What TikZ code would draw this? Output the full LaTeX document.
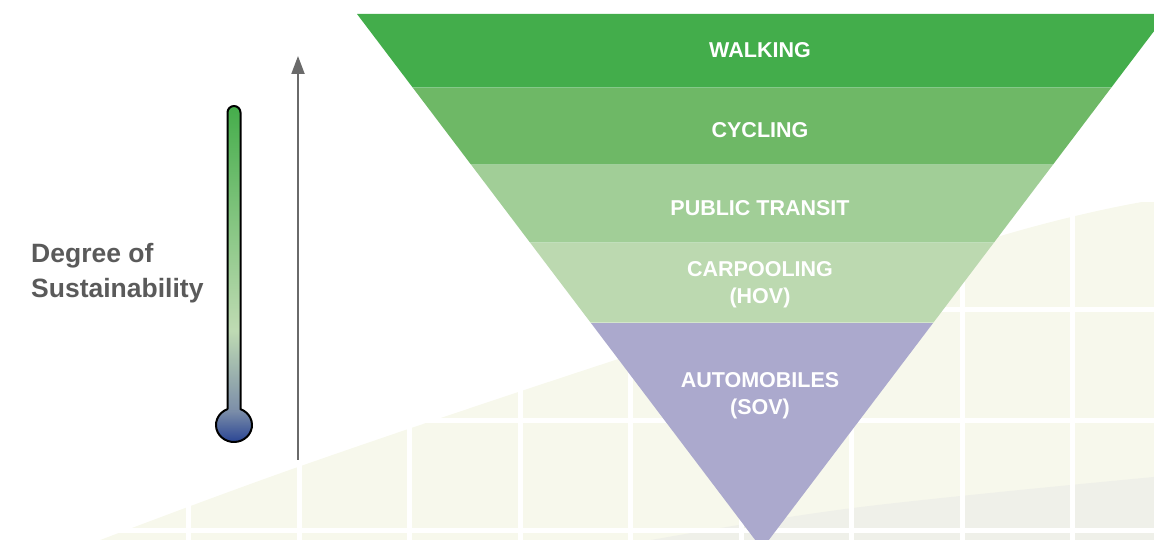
\documentclass[tikz,border=0pt]{standalone}
\usepackage{fontspec}
\setmainfont{Liberation Sans}
\usetikzlibrary{arrows.meta}
\definecolor{walkc}{HTML}{43AD4B}
\definecolor{cyclec}{HTML}{6EB866}
\definecolor{transitc}{HTML}{A1CE97}
\definecolor{carpoolc}{HTML}{BCD9B0}
\definecolor{autoc}{HTML}{ABA9CD}
\definecolor{beigec}{HTML}{F7F8EC}
\definecolor{swooshc}{HTML}{EFF0E9}
\definecolor{textgray}{HTML}{5A5A5A}
\definecolor{arrowgray}{HTML}{6A6A6A}
\definecolor{thG}{HTML}{45AD4B}
\definecolor{thL}{HTML}{BFDBB3}
\definecolor{thM}{HTML}{7D8FA9}
\definecolor{thB}{HTML}{2A4594}
\begin{document}
\begin{tikzpicture}[x=1pt,y=1pt,
  lbl/.style={text=white,font=\fontsize{21.5}{27}\selectfont\bfseries,align=center,inner sep=0pt},
  gridline/.style={white,line width=5pt},
  bandsep/.style={white,opacity=0.35,line width=1pt}]
\useasboundingbox (0,0) rectangle (1154,540);
\clip (0,0) rectangle (1154,540);
% background plane with grid
\fill[beigec] plot[smooth,tension=0.6] coordinates {(95,-2) (298,73) (600,175) (997,303) (1154,340)} -- (1160,340) -- (1160,-5) -- (95,-5) -- cycle;
\fill[swooshc] plot[smooth,tension=0.6] coordinates {(640,-2) (853,32) (1154,63)} -- (1160,63) -- (1160,-5) -- (640,-5) -- cycle;
\foreach \k in {0,...,8} \draw[gridline] ({188.5+110.5*\k},-5) -- ({188.5+110.5*\k},360);
\foreach \yy in {9,119.5,230,340.5} \draw[gridline] (0,\yy) -- (1160,\yy);
% inverted pyramid
\begin{scope}
  \clip (357,526) -- (1167,526) -- (762,-9) -- cycle;
  \fill[walkc] (340,452) rectangle (1180,530);
  \fill[cyclec] (340,375) rectangle (1180,452);
  \fill[transitc] (340,297) rectangle (1180,375);
  \fill[carpoolc] (340,217) rectangle (1180,297);
  \fill[autoc] (340,-10) rectangle (1180,217);
  \foreach \yy in {452,375,297,217} \draw[bandsep] (340,\yy) -- (1180,\yy);
\end{scope}
\node[lbl] (walking) at (760,490) {WALKING};
\node[lbl] (cycling) at (760,409.5) {CYCLING};
\node[lbl] (transit) at (760,332) {PUBLIC TRANSIT};
\node[lbl] (carpool) at (760,255) {CARPOOLING\\(HOV)};
\node[lbl] (autos) at (760,144.5) {AUTOMOBILES\\(SOV)};
% thermometer
\begin{scope}
  \clip (227.5,130.85) -- (227.5,427.5) arc[start angle=180,end angle=0,radius=6.5] -- (240.5,130.85) arc[start angle=68.8,end angle=-248.8,x radius=18,y radius=17] -- cycle;
  \foreach \yy in {210,...,436} {
    \pgfmathsetmacro\pp{max(0,min(100,(434-\yy)/224*100))}
    \fill[color=thL!\pp!thG] (210,\yy-0.7) rectangle (260,\yy+0.7);
  }
  \foreach \yy in {130,...,209} {
    \pgfmathsetmacro\pp{max(0,min(100,(210-\yy)/80*100))}
    \fill[color=thM!\pp!thL] (210,\yy-0.7) rectangle (260,\yy+0.7);
  }
  \foreach \yy in {94,...,129} {
    \pgfmathsetmacro\pp{max(0,min(100,(130-\yy)/32*100))}
    \fill[color=thB!\pp!thM] (210,\yy-0.7) rectangle (260,\yy+0.7);
  }
\end{scope}
\draw[black,line width=2pt,line join=round] (227.5,130.85) -- (227.5,427.5) arc[start angle=180,end angle=0,radius=6.5] -- (240.5,130.85) arc[start angle=68.8,end angle=-248.8,x radius=18,y radius=17] -- cycle;
% arrow
\coordinate (arrowfoot) at (298,80);
\coordinate (arrowtip) at (298,484);
\draw[arrowgray,line width=2pt,-{Triangle[length=18pt,width=13pt]}] (arrowfoot) -- (arrowtip);
% side label
\node[text=textgray,font=\fontsize{26.5}{34.5}\selectfont\bfseries,align=left,inner sep=0pt,anchor=west] (degree) at (31,266.6) {Degree of\\Sustainability};
\end{tikzpicture}
\end{document}
